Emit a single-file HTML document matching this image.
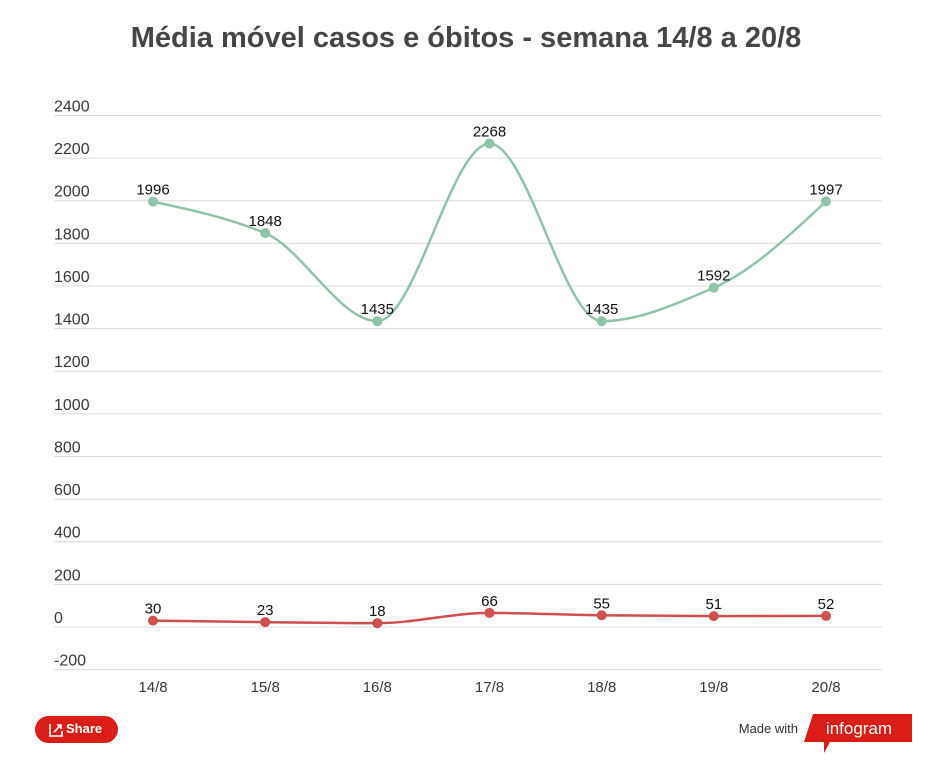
<!DOCTYPE html>
<html><head><meta charset="utf-8"><style>
html,body{margin:0;padding:0;background:#fff;width:949px;height:768px;overflow:hidden;font-family:"Liberation Sans",sans-serif}
</style></head><body>
<svg id="s" width="949" height="768" xmlns="http://www.w3.org/2000/svg" font-family="Liberation Sans, sans-serif">
<text x="466" y="47" text-anchor="middle" font-size="29" font-weight="bold" fill="#464646">Média móvel casos e óbitos - semana 14/8 a 20/8</text>
<g id="grid"></g>
<path id="g" fill="none" stroke="#8fc4a8" stroke-width="2.5"/>
<path id="r" fill="none" stroke="#d05050" stroke-width="2.5"/>
<g id="pts"></g>
<rect x="35" y="716" width="83" height="27" rx="13.5" fill="#d91e18"/>
<g stroke="#fff" stroke-width="1.6" fill="none"><path d="M50 724 v12 h12 v-5"/><path d="M54 732 l7 -7 M57 725 h4 v4"/></g>
<text x="66" y="733" font-size="13" font-weight="bold" fill="#fff">Share</text>
<text x="798" y="733" font-size="13" fill="#333" text-anchor="end">Made with</text>
<path d="M813 714 H912 V742 H830 L824 753 V742 H804 Z" fill="#d91e18"/>
<text x="859" y="734" font-size="17" fill="#fff" text-anchor="middle">infogram</text>
</svg>
<script>
var ns="http://www.w3.org/2000/svg";
function el(t,a,txt,p){var e=document.createElementNS(ns,t);for(var k in a)e.setAttribute(k,a[k]);if(txt!=null)e.textContent=txt;(p||document.getElementById('s')).appendChild(e);return e;}
function Y(v){return 627-v*0.21313;}
var grid=document.getElementById('grid');
for(var v=2400;v>=-200;v-=200){var y=Y(v);el('line',{x1:54,x2:882,y1:y,y2:y,stroke:'#dcdcdc','stroke-width':1},null,grid);el('text',{x:54,y:y-4,'font-size':16,fill:'#3a3a3a'},String(v),grid);}
var X=[153,265.2,377.3,489.5,601.7,713.8,826];
var lab=["14/8","15/8","16/8","17/8","18/8","19/8","20/8"];
for(var i=0;i<7;i++)el('text',{x:X[i],y:692,'font-size':15,fill:'#3a3a3a','text-anchor':'middle'},lab[i],grid);
function mono(xs,ys){var n=xs.length,d=[],m=[];for(var i=0;i<n-1;i++)d.push((ys[i+1]-ys[i])/(xs[i+1]-xs[i]));
for(var i=0;i<n;i++){if(i==0)m.push(d[0]);else if(i==n-1)m.push(d[n-2]);else{if(d[i-1]*d[i]<=0)m.push(0);else{m.push(2/(1/d[i-1]+1/d[i]));}}}
m[0]=(3*d[0]-m[1])/2;m[n-1]=(3*d[n-2]-m[n-2])/2;
var p="M"+xs[0]+" "+ys[0];for(var i=0;i<n-1;i++){var h=(xs[i+1]-xs[i])/3;p+=" C"+(xs[i]+h)+" "+(ys[i]+m[i]*h)+" "+(xs[i+1]-h)+" "+(ys[i+1]-m[i+1]*h)+" "+xs[i+1]+" "+ys[i+1];}return p;}
var G=[1996,1848,1435,2268,1435,1592,1997],R=[30,23,18,66,55,51,52];
var gy=G.map(Y),ry=R.map(Y);
document.getElementById('g').setAttribute('d',mono(X,gy));
document.getElementById('r').setAttribute('d',mono(X,ry));
var pts=document.getElementById('pts');
for(var i=0;i<7;i++){el('circle',{cx:X[i],cy:gy[i],r:5,fill:'#8fc4a8'},null,pts);el('text',{x:X[i],y:gy[i]-7,'font-size':15,fill:'#111','text-anchor':'middle'},String(G[i]),pts);
el('circle',{cx:X[i],cy:ry[i],r:5,fill:'#d05050'},null,pts);el('text',{x:X[i],y:ry[i]-7,'font-size':15,fill:'#111','text-anchor':'middle'},String(R[i]),pts);}
</script>
</body></html>
